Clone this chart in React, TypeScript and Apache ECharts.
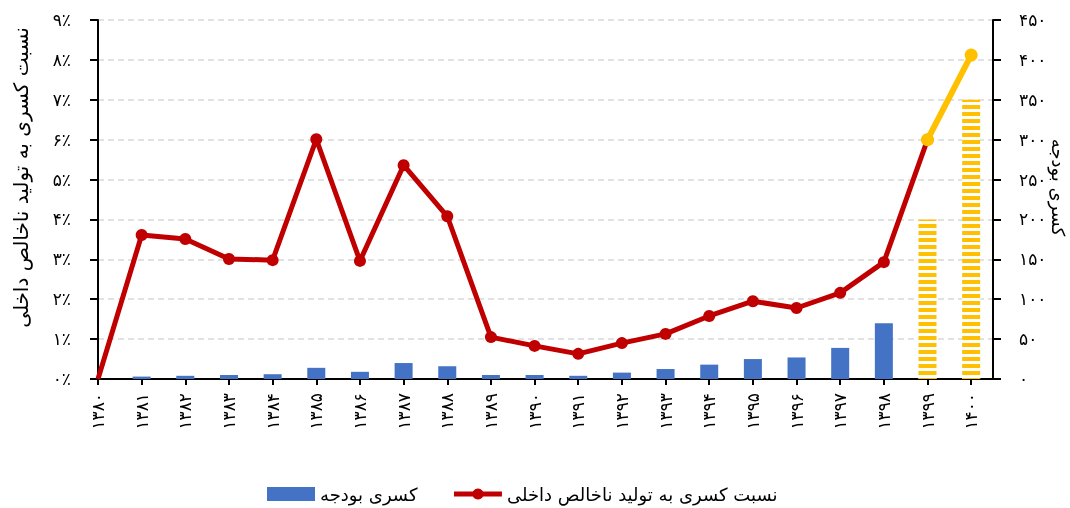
import React, { useEffect, useRef } from "react";
import * as echarts from "echarts";

const years = ["۱۳۸۰", "۱۳۸۱", "۱۳۸۲", "۱۳۸۳", "۱۳۸۴", "۱۳۸۵", "۱۳۸۶", "۱۳۸۷", "۱۳۸۸", "۱۳۸۹", "۱۳۹۰", "۱۳۹۱", "۱۳۹۲", "۱۳۹۳", "۱۳۹۴", "۱۳۹۵", "۱۳۹۶", "۱۳۹۷", "۱۳۹۸", "۱۳۹۹", "۱۴۰۰"];
const deficit = [0, 3, 4, 5, 6, 14, 9, 20, 16, 5, 5, 4, 8, 12.5, 18, 25, 27, 39, 70, 200, 350];
const deficitToGdp = [0, 3.61, 3.51, 3.01, 2.98, 6.01, 2.96, 5.36, 4.08, 1.05, 0.83, 0.63, 0.9, 1.13, 1.58, 1.95, 1.78, 2.16, 2.93, 6.0, 8.12];
const forecastFrom = 19;

const barName = "کسری بودجه";
const lineName = "نسبت کسری به تولید ناخالص داخلی";
const forecastName = "پیش‌بینی";

const FONT = "DejaVu Sans";
const faDigits = "۰۱۲۳۴۵۶۷۸۹";
const toFa = (n: number) => String(n).replace(/[0-9]/g, (d) => faDigits[+d]);

export default function App() {
  const ref = useRef<HTMLDivElement>(null);
  useEffect(() => {
    if (!ref.current) return;
    const chart = echarts.init(ref.current, null, { renderer: "svg" });
    const barData = deficit.map((v, i) =>
      i >= forecastFrom
        ? {
            value: [i, v],
            itemStyle: {
              color: "#ffffff",
              decal: {
                symbol: "rect",
                symbolSize: 1,
                color: "#FFC000",
                backgroundColor: "#ffffff",
                dashArrayX: [1, 0],
                dashArrayY: [4, 3],
              },
            },
          }
        : { value: [i, v] }
    );
    const redData = deficitToGdp
      .slice(0, forecastFrom + 1)
      .map((v, i) => (i === 0 ? { value: [i, v], symbol: "none" } : { value: [i, v] }));
    const yellowData = deficitToGdp.slice(forecastFrom).map((v, k) => [forecastFrom + k, v]);

    chart.setOption({
      animation: false,
      textStyle: { fontFamily: FONT },
      grid: { left: 98, right: 77, top: 20, bottom: 129, containLabel: false, outerBoundsMode: "none" },
      legend: {
        data: [
          { name: barName, icon: "rect" },
          { name: lineName, lineStyle: { width: 5 } },
        ],
        left: 262,
        top: 480,
        itemWidth: 48,
        itemHeight: 14,
        itemGap: 34,
        textStyle: { fontFamily: FONT, fontSize: 18, color: "#000" },
      },
      xAxis: {
        type: "value",
        min: 0,
        max: 20.5,
        interval: 1,
        axisLine: { show: true, lineStyle: { color: "#000", width: 2 } },
        axisTick: { show: true, length: 6, lineStyle: { color: "#000", width: 2 } },
        splitLine: { show: false },
        axisLabel: {
          rotate: 90,
          margin: 14,
          fontSize: 17,
          color: "#000",
          fontFamily: FONT,
          showMaxLabel: false,
          formatter: (v: number) => (Number.isInteger(v) && years[v] ? years[v] : ""),
        },
      },
      yAxis: [
        {
          type: "value",
          min: 0,
          max: 9,
          interval: 1,
          name: lineName,
          nameLocation: "middle",
          nameGap: 67,
          nameMoveOverlap: false,
          nameTextStyle: { fontFamily: FONT, fontSize: 20, color: "#000", padding: [0, 0, 0, 44] },
          axisLine: { show: true, lineStyle: { color: "#000", width: 2 } },
          axisTick: { show: true, length: 8, lineStyle: { color: "#000", width: 2 } },
          axisLabel: {
            margin: 27,
            fontSize: 17,
            color: "#000",
            fontFamily: FONT,
            formatter: (v: number) => toFa(v) + "٪",
          },
          splitLine: { show: true, lineStyle: { color: "#D9D9D9", width: 1.5, type: [6, 4] } },
        },
        {
          type: "value",
          min: 0,
          max: 450,
          interval: 50,
          name: barName,
          nameLocation: "middle",
          nameGap: 56,
          nameMoveOverlap: false,
          nameRotate: -90,
          nameTextStyle: { fontFamily: FONT, fontSize: 18, color: "#000", padding: [0, 24, 0, 0] },
          axisLine: { show: true, lineStyle: { color: "#000", width: 2 } },
          axisTick: { show: true, length: 8, lineStyle: { color: "#000", width: 2 } },
          axisLabel: {
            margin: 26,
            fontSize: 17,
            color: "#000",
            fontFamily: FONT,
            formatter: (v: number) => toFa(v),
          },
          splitLine: { show: false },
        },
      ],
      series: [
        {
          name: barName,
          type: "bar",
          yAxisIndex: 1,
          barWidth: 18,
          itemStyle: { color: "#4472C4" },
          data: barData,
          z: 1,
        },
        {
          name: lineName,
          type: "line",
          yAxisIndex: 0,
          symbol: "circle",
          symbolSize: 12,
          lineStyle: { color: "#C00000", width: 5 },
          itemStyle: { color: "#C00000" },
          data: redData,
          z: 3,
        },
        {
          name: forecastName,
          type: "line",
          yAxisIndex: 0,
          symbol: "circle",
          symbolSize: 13,
          lineStyle: { color: "#FFC000", width: 6 },
          itemStyle: { color: "#FFC000" },
          data: yellowData,
          z: 4,
        },
      ],
    });
    return () => chart.dispose();
  }, []);
  return <div ref={ref} style={{ position: "fixed", left: 0, top: 0, width: 1070, height: 508 }} />;
}
